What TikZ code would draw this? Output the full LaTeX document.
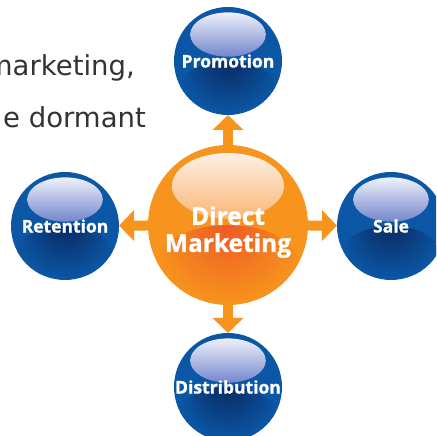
\documentclass[tikz,border=0pt]{standalone}
\usepackage{fontspec}
\newfontfamily\dmtextfont{DejaVu Sans}
\newfontfamily\dmlabelfont{Open Sans}[BoldFeatures={FakeBold=1.2}]
\usepackage{xcolor}
\definecolor{dmink}{HTML}{333333}
\definecolor{dmblue}{HTML}{0B57A6}
\definecolor{dmdeep}{HTML}{092A62}
\definecolor{dmbluehi}{HTML}{EEF1FA}
\definecolor{dmbluelo}{HTML}{7486CC}
\definecolor{dmorange}{HTML}{F7941D}
\definecolor{dmember}{HTML}{EE5A24}
\definecolor{dmorangehi}{HTML}{FDF0E6}
\definecolor{dmorangelo}{HTML}{FAB673}
\usetikzlibrary{arrows.meta,positioning}
\tikzset{
  dmball/.style n args={5}{circle, minimum size=#1, inner sep=0pt, outer sep=0pt,
                   fill=#2, text=white, align=center,
                   path picture={
                     \shade[inner color=#3, outer color=#2]
                       ([yshift=-0.24*#1]path picture bounding box.center)
                       ellipse [x radius=0.44*#1, y radius=0.24*#1];
                     \shade[top color=#4, bottom color=#5]
                       ([yshift=0.245*#1]path picture bounding box.center)
                       ellipse [x radius=0.35*#1, y radius=0.205*#1];
                   }},
  dmsat/.style  ={dmball={108pt}{dmblue}{dmdeep}{dmbluehi}{dmbluelo},
                  font=\dmlabelfont\bfseries\fontsize{17.5}{20}\selectfont},
  dmhub/.style  ={dmball={160pt}{dmorange}{dmember}{dmorangehi}{dmorangelo}},
  dmhublbl/.style={text=white, align=center, inner sep=0pt,
                  font=\dmlabelfont\bfseries\fontsize{24.5}{27}\selectfont},
  dmarrow/.style={-{Triangle[length=15pt,width=30pt]}, line width=10pt, draw=dmorange},
  dmtext/.style ={font=\dmtextfont\fontsize{27.5}{33}\selectfont, text=dmink,
                  anchor=base east, inner sep=0pt},
}

\begin{document}
\begin{tikzpicture}[x=1pt, y=1pt]
  \useasboundingbox (0,0) rectangle (436,436);
  \clip (0,0) rectangle (436,436);
  \fill[white] (0,0) rectangle (436,436);
  % text cut off by the left edge
  \node[dmtext] (line1) at (135,360) {marketing,};
  \node[dmtext] (line2) at (146,308) {e dormant};
  % hub and the four channels
  \node[dmhub] (hub)   at (228,211) {};
  \node[dmhublbl] (hubtext) at ([yshift=-7pt]hub.center) {Direct\\Marketing};
  \node[dmsat] (promo) at (228,375) {Promotion};
  \node[dmsat] (ret)   at (65,210)  {Retention};
  \node[dmsat] (sale)  at (391,210) {Sale};
  \node[dmsat] (dist)  at (228,49)  {\raisebox{-3pt}{Distribution}};
  \foreach \sat in {promo, ret, sale, dist}
    \draw[dmarrow] (hub) -- (\sat);
\end{tikzpicture}
\end{document}
